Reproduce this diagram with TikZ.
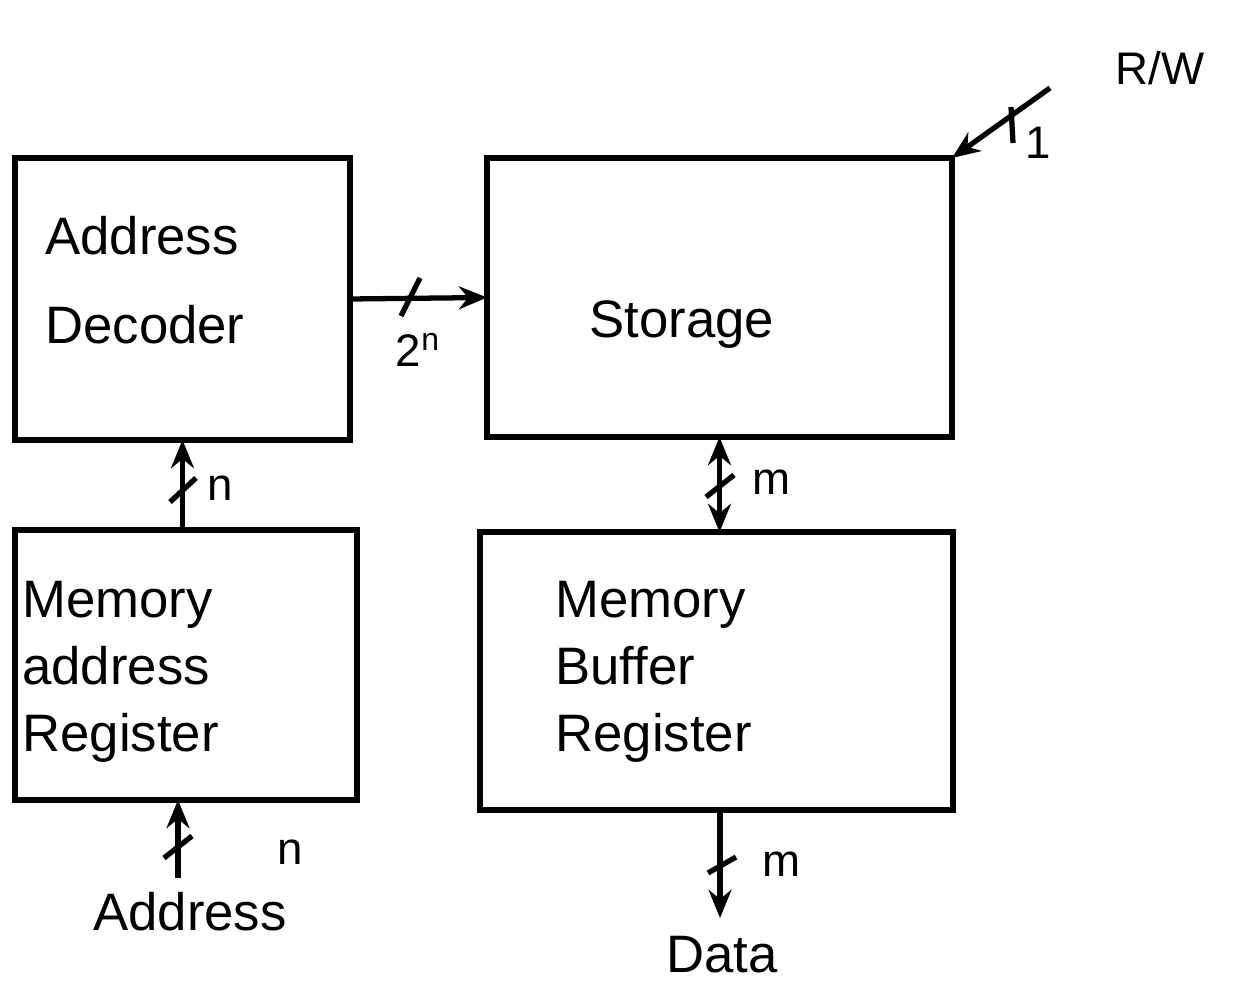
\documentclass[tikz,border=0pt]{standalone}
\usepackage{fontspec}
\setmainfont{Liberation Sans}
\usetikzlibrary{arrows.meta}
\begin{document}
\begin{tikzpicture}[x=0.02cm,y=-0.02cm,
  box/.style={draw,line width=3.5pt,inner sep=0pt,outer sep=0pt},
  arr/.style={line width=3pt,-{Stealth[length=16pt,width=13pt]}},
  darr/.style={line width=3pt,{Stealth[length=16pt,width=13pt]}-{Stealth[length=16pt,width=13pt]}},
  tick/.style={line width=3pt},
  big/.style={font=\fontsize{30}{38}\selectfont,inner sep=0pt,align=left},
  lab/.style={font=\fontsize{26}{30}\selectfont,inner sep=0pt}]
\useasboundingbox (0,0) rectangle (1233,986);
% boxes
\node[box,minimum width=6.7cm,minimum height=5.64cm] (dec) at (182.5,299) {};
\node[box,minimum width=9.3cm,minimum height=5.58cm] (sto) at (719.5,297.5) {};
\node[box,minimum width=6.84cm,minimum height=5.4cm] (mar) at (186,665) {};
\node[box,minimum width=9.46cm,minimum height=5.56cm] (mbr) at (716.5,671) {};
% box texts
\node[big,anchor=west,font=\fontsize{30}{51}\selectfont] (tdec) at (45,280) {Address\\Decoder};
\node[big] (tsto) at (682,325) {Storage};
\node[big,anchor=west] (tmar) at (22,672) {Memory\\address\\Register};
\node[big,anchor=west] (tmbr) at (555,672) {Memory\\Buffer\\Register};
% decoder -> storage
\draw[arr] (dec.east) -- (sto.west);
\draw[tick] (401,316) -- (420,278);
\node[lab] (l2n) at (418,350) {2$^{\mathrm{n}}$};
% R/W
\coordinate (rw) at (1050,88);
\draw[arr] (rw) -- (sto.north east);
\draw[tick] (1011,107) -- (1013,143);
\node[lab] (l1) at (1038,143) {1};
\node[lab] (trw) at (1160,68) {R/W};
% MAR -> decoder
\draw[arr] (mar.north -| dec.south) -- (dec.south);
\draw[tick] (170,502) -- (196,478);
\node[lab] (ln) at (220,488) {n};
% storage <-> MBR
\draw[darr] (sto.south) -- (mbr.north -| sto.south);
\draw[tick] (706,497) -- (734,475);
\node[lab] (lm) at (772,482) {m};
% Address -> MAR
\coordinate (addr) at (178,878);
\draw[arr] (addr) -- (mar.south -| addr);
\draw[tick] (164,858) -- (192,836);
\node[lab] (lan) at (290,852) {n};
\node[big] (taddr) at (190,912) {Address};
% MBR -> Data
\coordinate (data) at (720,918);
\draw[arr] (mbr.south -| data) -- (data);
\draw[tick] (708,873) -- (736,857);
\node[lab] (ldm) at (782,864) {m};
\node[big] (tdata) at (722,955) {Data};
\end{tikzpicture}
\end{document}
